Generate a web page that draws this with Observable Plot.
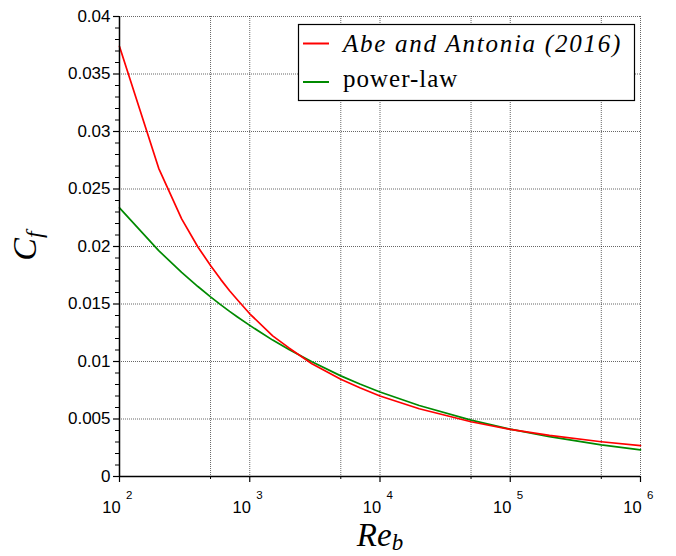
<!DOCTYPE html>
<html>
<head>
<meta charset="utf-8">
<script src="https://cdn.jsdelivr.net/npm/d3@7"></script>
<script src="https://cdn.jsdelivr.net/npm/@observablehq/plot@0.6"></script>
<style>
  html, body { margin: 0; padding: 0; background: #fff; }
  #chart { width: 676px; height: 556px; }
</style>
</head>
<body>
<div id="chart"></div>
<script>
// ---- data ----
const reB = [100, 200, 300, 400, 500, 600, 700, 800, 1000, 1500, 2000, 3000, 5000, 7000,
             10000, 20000, 50000, 100000, 200000, 500000, 1000000];
const cfAbeAntonia = [0.0374, 0.0268, 0.0224, 0.01996, 0.01835, 0.01712, 0.01615, 0.01539, 0.01415, 0.01223, 0.01118, 0.00980, 0.00846, 0.00771,
                      0.00700, 0.00589, 0.00476, 0.00410, 0.00357, 0.00302, 0.00268];
const cfPowerLaw = [0.02336, 0.01964, 0.01775, 0.01652, 0.01562, 0.01493, 0.01436, 0.01389, 0.01314, 0.01186, 0.01104, 0.00997, 0.00875, 0.00804,
                    0.00735, 0.00617, 0.00490, 0.00412, 0.00346, 0.00275, 0.00231];
const seriesNames = ["Abe and Antonia (2016)", "power-law"];
const seriesColors = ["#ff0000", "#008a00"];

const xDecades = [100, 1000, 10000, 100000, 1000000];
const xDecadeExponents = ["2", "3", "4", "5", "6"];
const xFives = [500, 5000, 50000, 500000];
const yMajor = [0, 0.005, 0.01, 0.015, 0.02, 0.025, 0.03, 0.035, 0.04];
const yMinor = d3.range(0, 41).map(i => i / 1000).filter(v => Math.round(v * 1000) % 5 !== 0);

const red = reB.map((r, i) => ({re: r, cf: cfAbeAntonia[i]}));
const green = reB.map((r, i) => ({re: r, cf: cfPowerLaw[i]}));

const gridStyle = {stroke: "#000", strokeOpacity: 0.6, strokeDasharray: "1,1", strokeWidth: 1};

const plot = Plot.plot({
  width: 676,
  height: 556,
  marginLeft: 119,
  marginRight: 36,
  marginTop: 16,
  marginBottom: 80,
  style: {fontFamily: "'Liberation Sans', Arial, sans-serif", fontSize: "17px", background: "#fff", color: "#000"},
  x: {type: "log", domain: [100, 1e6]},
  y: {domain: [0, 0.04]},
  marks: [
    Plot.gridX([...xDecades, ...xFives], gridStyle),
    Plot.gridY(yMajor, gridStyle),
    Plot.axisY({ticks: yMinor, tickSize: 4, tickFormat: () => "", label: null, strokeWidth: 1}),
    Plot.axisY({ticks: yMajor, tickSize: 6, tickPadding: 3, label: null, fontSize: 17, strokeWidth: 1.2,
                tickFormat: d => String(+d.toFixed(3))}),
    Plot.axisX({ticks: xDecades, tickSize: 6, tickFormat: () => "", label: null, strokeWidth: 1.2}),
    Plot.axisX({ticks: xFives, tickSize: 3, tickFormat: () => "", label: null, strokeWidth: 1}),
    Plot.line(green, {x: "re", y: "cf", stroke: seriesColors[1], strokeWidth: 1.7}),
    Plot.line(red, {x: "re", y: "cf", stroke: seriesColors[0], strokeWidth: 1.7}),
    Plot.ruleX([100], {stroke: "#000", strokeWidth: 1.5}),
    Plot.ruleY([0], {stroke: "#000", strokeWidth: 1.5})
  ]
});

document.getElementById("chart").appendChild(plot);

// ---- custom text: x tick labels with superscripts, axis labels, legend ----
const svg = d3.select(plot);
const xs = plot.scale("x");
const sans = "'Liberation Sans', Arial, sans-serif";
const serif = "'Liberation Serif', 'Times New Roman', serif";

xDecades.forEach((v, i) => {
  const px = xs.apply(v);
  svg.append("text").attr("x", px - 7.5).attr("y", 512.5).attr("text-anchor", "middle")
    .attr("font-family", sans).attr("font-size", 16.5).attr("fill", "#000").text("10");
  svg.append("text").attr("x", px + 7).attr("y", 498.5).attr("text-anchor", "start")
    .attr("font-family", sans).attr("font-size", 11.5).attr("fill", "#000").text(xDecadeExponents[i]);
});

// y label C_f (rotated)
const yl = svg.append("text").attr("transform", "translate(36,246) rotate(-90)")
  .attr("text-anchor", "middle").attr("font-family", serif).attr("font-style", "italic")
  .attr("font-size", 34).attr("fill", "#000");
yl.append("tspan").text("C");
yl.append("tspan").attr("font-size", 24).attr("dy", 6).text("f");

// x label Re_b
const xl = svg.append("text").attr("x", 380).attr("y", 546)
  .attr("text-anchor", "middle").attr("font-family", serif).attr("font-style", "italic")
  .attr("font-size", 33).attr("fill", "#000");
xl.append("tspan").text("Re");
xl.append("tspan").attr("font-size", 23).attr("dy", 4).text("b");

// legend
const lg = svg.append("g");
lg.append("rect").attr("x", 298.5).attr("y", 24.5).attr("width", 336).attr("height", 76)
  .attr("fill", "#fff").attr("stroke", "#000").attr("stroke-width", 1.2);
[[43.5, 51.5], [82, 87]].forEach(([ly, ty], i) => {
  lg.append("line").attr("x1", 303).attr("x2", 329).attr("y1", ly).attr("y2", ly)
    .attr("stroke", seriesColors[i]).attr("stroke-width", 2);
  lg.append("text").attr("x", 343).attr("y", ty).attr("text-anchor", "start").attr("font-family", serif)
    .attr("font-style", i === 0 ? "italic" : "normal").attr("font-size", 25)
    .attr("letter-spacing", i === 0 ? 1.75 : 1.0)
    .attr("fill", "#000").text(seriesNames[i]);
});
</script>
</body>
</html>
